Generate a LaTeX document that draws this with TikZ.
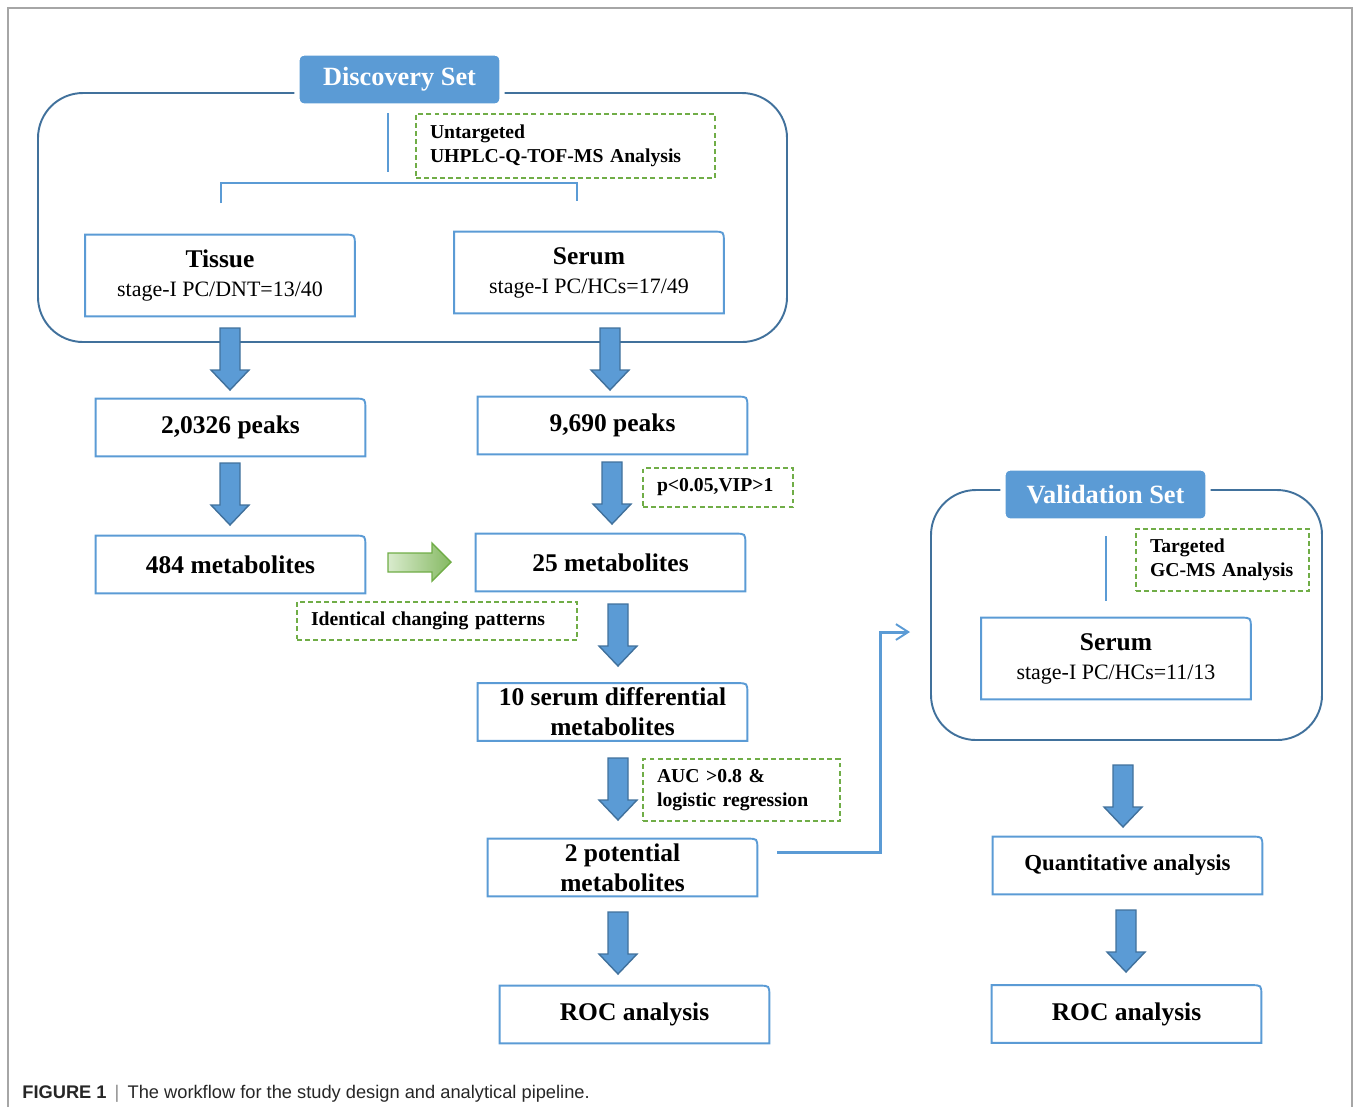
\documentclass[tikz,border=0pt]{standalone}
\usepackage{fontspec}
\setmainfont{Liberation Serif}
\newfontfamily\capfont{Liberation Sans}
\usetikzlibrary{arrows.meta}

\definecolor{boxblue}{HTML}{5B9BD5}
\definecolor{frameblue}{HTML}{41719C}
\definecolor{dashgreen}{HTML}{70AD47}
\definecolor{palegreen}{HTML}{D9EBCD}

\tikzset{
  stepbox/.style={minimum width=5.38cm, minimum height=1.14cm, inner sep=2pt, align=center,
    font=\fontsize{14.5}{17}\selectfont\bfseries},
  samplebox/.style={stepbox, minimum height=1.62cm, font=\fontsize{12.5}{16.5}\selectfont},
  boxline/.style={draw=boxblue, line width=1.1pt},
  frame/.style={draw=frameblue, line width=1.1pt, rounded corners=0.9cm},
  settitle/.style={fill=boxblue, draw=white, line width=3pt, rounded corners=0.14cm, text=white,
    minimum width=4.1cm, minimum height=1.06cm, font=\fontsize{15}{18}\selectfont\bfseries},
  note/.style={draw=dashgreen, line width=1.1pt, dash pattern=on 2.8pt off 1.8pt, align=left,
    inner xsep=0.28cm, inner ysep=0pt, font=\fontsize{11.2}{13.6}\selectfont\bfseries},
  blockarrow/.style={fill=boxblue, draw=frameblue, line width=0.8pt},
  link/.style={draw=boxblue, line width=1.7pt, -{Straight Barb[length=7pt,width=9pt,line width=1.1pt]}}
}

\begin{document}
\begin{tikzpicture}[x=0.02cm,y=-0.02cm]
  \useasboundingbox (0,0) rectangle (1354,1107);
  \draw[gray!70, line width=1.1pt] (8,1107) -- (8,8) -- (1352,8) -- (1352,1107);

  % discovery set
  \draw[frame] (38,93) rectangle (787,342);
  \node[settitle] (disc) at (399.5,79.5) {Discovery Set};
  \draw[boxline] (388,113) -- (388,172);
  \draw[boxline] (221,203) -- (221,183) -- (577,183) -- (577,201);
  \node[note, text width=5.42cm, minimum height=1.28cm] (untarg) at (565.5,146)
    {Untargeted\\UHPLC-Q-TOF-MS Analysis};
  \node[samplebox] (tis) at (220,275.5)
    {{\fontsize{14.5}{17}\selectfont\bfseries Tissue}\\stage-I PC/DNT=13/40};
  \node[samplebox] (serD) at (589,272.5)
    {{\fontsize{14.5}{17}\selectfont\bfseries Serum}\\stage-I PC/HCs=17/49};

  % pipeline
  \node[stepbox] (pkL) at (230.5,427.5) {2,0326 peaks};
  \node[stepbox] (pkR) at (612.5,425.5) {9,690 peaks};
  \node[stepbox] (metL) at (230.5,564.5) {484 metabolites};
  \node[stepbox] (metR) at (610.5,562.5) {25 metabolites};
  \node[stepbox, font=\fontsize{14.5}{17}\selectfont\bfseries] (dif) at (612.5,712)
    {10 serum differential\\metabolites};
  \node[stepbox, font=\fontsize{14.5}{17}\selectfont\bfseries] (pot) at (622.5,867.5)
    {2 potential\\metabolites};
  \node[stepbox] (rocL) at (634.5,1014.5) {ROC analysis};

  \node[note, text width=2.44cm, minimum height=0.78cm] (pvip) at (718,487.5) {p<0.05,VIP>1};
  \node[note, text width=5.04cm, minimum height=0.76cm] (ident) at (437,621) {Identical changing patterns};
  \node[note, text width=3.38cm, minimum height=1.24cm] (auc) at (741.5,790)
    {AUC >0.8 \&\\logistic regression};

  % validation set
  \draw[frame] (931,490) rectangle (1322,740);
  \node[settitle] (valid) at (1105.5,494.5) {Validation Set};
  \draw[boxline] (1106,536) -- (1106,601);
  \node[note, text width=2.9cm, minimum height=1.24cm] (targ) at (1222.5,560)
    {Targeted\\GC-MS Analysis};
  \node[samplebox] (serV) at (1116,658.5)
    {{\fontsize{14.5}{17}\selectfont\bfseries Serum}\\stage-I PC/HCs=11/13};
  \node[stepbox, font=\fontsize{13}{16}\selectfont\bfseries] (quant) at (1127.5,865.5) {Quantitative analysis};
  \node[stepbox] (rocR) at (1126.5,1014) {ROC analysis};

  % box borders, top right corner rounded
  \foreach \n in {tis,serD,pkL,pkR,metL,metR,dif,pot,rocL,serV,quant,rocR}
    \draw[boxline] ([yshift=-0.2cm]\n.north east) .. controls (\n.north east) .. ([xshift=-0.2cm]\n.north east)
      -- (\n.north west) -- (\n.south west) -- (\n.south east) -- cycle;

  % block arrows
  \foreach \x/\y in {230/328,610/328,230/463,612/462,618/604,618/758,618/912,1123/765,1126/910}
    \draw[blockarrow] (\x-10,\y) -- ++(0,42) -- ++(-9,0) -- ++(19,20) -- ++(19,-20) -- ++(-9,0) -- ++(0,-42) -- cycle;
  \draw[left color=palegreen, right color=dashgreen!85, draw=dashgreen, line width=0.8pt]
    (388,553) -- (432,553) -- (432,543) -- (451,562) -- (432,581) -- (432,572) -- (388,572) -- cycle;

  \coordinate (vin) at (910,632);
  \draw[link] ([xshift=0.4cm,yshift=0.31cm]pot.east) -| ([xshift=-0.6cm]vin) -- (vin);

  \node[anchor=base west, inner sep=0pt, text=black!85, font=\capfont\fontsize{10.4}{12}\selectfont] (cap) at (22,1098)
    {\textbf{FIGURE 1} \,{\color{black!45}|}\, The workflow for the study design and analytical pipeline.};
\end{tikzpicture}
\end{document}
